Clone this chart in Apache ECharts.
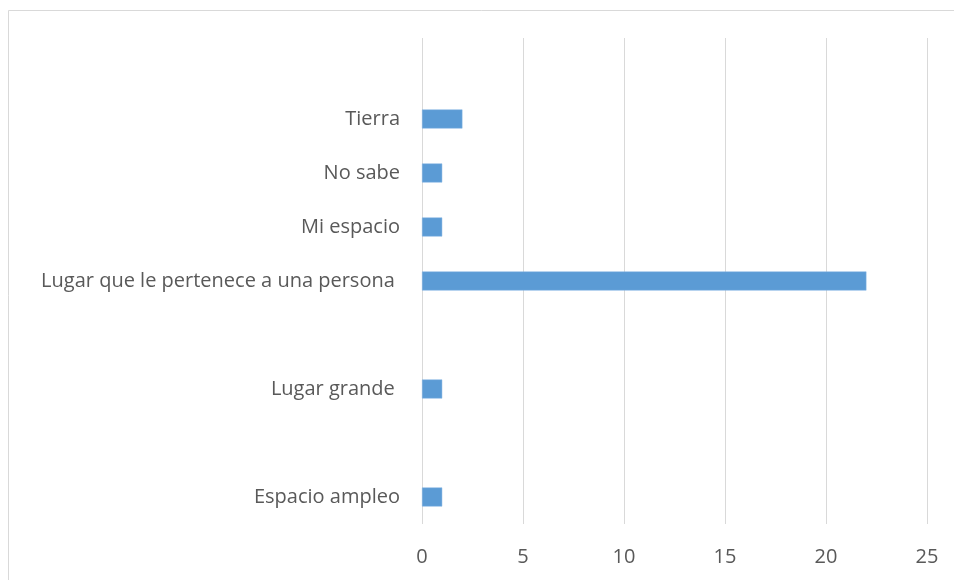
<!DOCTYPE html>
<html>
<head>
<meta charset="utf-8">
<script src="https://cdn.jsdelivr.net/npm/echarts@6/dist/echarts.min.js"></script>
<style>html,body{margin:0;padding:0;background:#fff;}#c{width:954px;height:580px;}</style>
</head>
<body>
<div id="c"></div>
<script>
// Categories from bottom to top (blank entries are empty slots in the original)
const categories = ['Espacio ampleo', '', 'Lugar grande ', '', 'Lugar que le pertenece a una persona ', 'Mi espacio', 'No sabe', 'Tierra', ''];
const values = [1, null, 1, null, 22, 1, 1, 2, null];
const xTicks = [0, 5, 10, 15, 20, 25];

const chart = echarts.init(document.getElementById('c'));
chart.setOption({
  animation: false,
  backgroundColor: '#ffffff',
  graphic: [{
    type: 'rect', silent: true,
    shape: { x: 8.5, y: 10.5, width: 1000, height: 1000 },
    style: { fill: 'none', stroke: '#d9d9d9', lineWidth: 1 }
  }],
  grid: { left: 422, right: 27, top: 38, bottom: 56, containLabel: false },
  xAxis: {
    type: 'value', min: xTicks[0], max: xTicks[xTicks.length - 1], interval: 5,
    axisLine: { show: false }, axisTick: { show: false },
    splitLine: { show: true, lineStyle: { color: '#d9d9d9', width: 1 } },
    axisLabel: { color: '#595959', fontSize: 20, fontFamily: 'Open Sans', margin: 23 }
  },
  yAxis: {
    type: 'category', data: categories,
    axisLine: { show: false }, axisTick: { show: false },
    splitLine: { show: false },
    axisLabel: { color: '#595959', fontSize: 20, fontFamily: 'Open Sans', margin: 22, interval: 0 }
  },
  series: [{
    type: 'bar', data: values, barWidth: 19,
    itemStyle: { color: '#5B9BD5', borderColor: '#84b5e3', borderWidth: 0.5 }
  }]
});
</script>
</body>
</html>
